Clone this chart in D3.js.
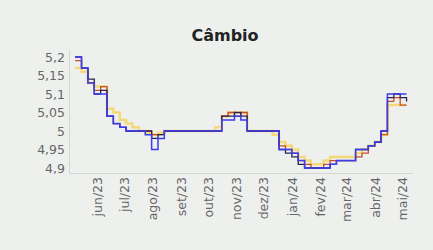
<!DOCTYPE html>
<html><head><meta charset="utf-8">
<script src="https://cdn.jsdelivr.net/npm/d3@7"></script>
<style>
html,body{margin:0;padding:0;background:#eef0ee;}
svg{display:block;}
</style></head>
<body>
<script>
const title = "Câmbio";
const startDate = "2023-05-08"; // weekly survey dates
const yTicks = [4.9, 4.95, 5.0, 5.05, 5.1, 5.15, 5.2];
const monthTicks = ["2023-06-01","2023-07-01","2023-08-01","2023-09-01","2023-10-01","2023-11-01","2023-12-01","2024-01-01","2024-02-01","2024-03-01","2024-04-01","2024-05-01"];
const monthLabels = ["jun/23","jul/23","ago/23","set/23","out/23","nov/23","dez/23","jan/24","fev/24","mar/24","abr/24","mai/24"];

const yellowSeries = [5.17,5.16,5.13,5.12,5.12,5.06,5.05,5.03,5.02,5.01,5.00,4.995,4.99,4.995,5.00,5.00,5.00,5.00,5.00,5.00,5.00,5.00,5.01,5.04,5.05,5.05,5.05,5.00,5.00,5.00,5.00,4.99,4.97,4.96,4.95,4.93,4.92,4.91,4.91,4.92,4.93,4.93,4.93,4.93,4.94,4.95,4.96,4.97,4.99,5.07,5.07,5.07,5.07];
const redSeries    = [5.19,5.17,5.13,5.11,5.12,5.04,5.02,5.01,5.00,5.00,5.00,5.00,4.99,4.99,5.00,5.00,5.00,5.00,5.00,5.00,5.00,5.00,5.00,5.04,5.05,5.04,5.05,5.00,5.00,5.00,5.00,5.00,4.96,4.95,4.94,4.92,4.91,4.90,4.90,4.91,4.92,4.92,4.92,4.92,4.93,4.94,4.96,4.97,4.99,5.08,5.09,5.07,5.07];
const darkSeries   = [5.20,5.17,5.14,5.10,5.11,5.04,5.02,5.01,5.00,5.00,5.00,5.00,4.98,4.99,5.00,5.00,5.00,5.00,5.00,5.00,5.00,5.00,5.00,5.04,5.04,5.05,5.04,5.00,5.00,5.00,5.00,5.00,4.95,4.94,4.93,4.91,4.90,4.90,4.90,4.90,4.91,4.92,4.92,4.92,4.95,4.95,4.96,4.97,5.00,5.09,5.10,5.09,5.08];
const blueSeries   = [5.20,5.17,5.13,5.10,5.10,5.04,5.02,5.01,5.00,5.00,5.00,4.99,4.95,4.98,5.00,5.00,5.00,5.00,5.00,5.00,5.00,5.00,5.00,5.03,5.03,5.04,5.03,5.00,5.00,5.00,5.00,5.00,4.95,4.95,4.94,4.92,4.90,4.90,4.90,4.90,4.91,4.92,4.92,4.92,4.95,4.95,4.96,4.97,5.00,5.10,5.10,5.10,5.10];

const W = 433, H = 250;
const parse = d3.utcParse("%Y-%m-%d");
const t0 = parse(startDate);
const dates = blueSeries.map((_, i) => d3.utcDay.offset(t0, 7 * i));

const x = d3.scaleUtc().domain([parse("2023-06-01"), parse("2024-05-01")]).range([97, 402]);
const y = d3.scaleLinear().domain([4.9, 5.2]).range([168, 57]);

const svg = d3.select("body").append("svg").attr("width", W).attr("height", H);
svg.append("rect").attr("width", W).attr("height", H).attr("fill", "#eef0ee");

svg.append("text").attr("x", 225).attr("y", 41).attr("text-anchor", "middle")
  .attr("font-family", "DejaVu Sans, sans-serif").attr("font-weight", "bold")
  .attr("font-size", 16).attr("fill", "#222").text(title);

// axis lines
svg.append("line").attr("x1", 69.5).attr("x2", 69.5).attr("y1", 50).attr("y2", 174).attr("stroke", "#d4d6d4");
svg.append("line").attr("x1", 69).attr("x2", 413).attr("y1", 173.5).attr("y2", 173.5).attr("stroke", "#d4d6d4");

// y axis
const yAxis = d3.axisLeft(y).tickValues(yTicks).tickSize(0).tickPadding(0)
  .tickFormat(d => d3.format("")(+d.toFixed(2)).replace(".", ","));
const gy = svg.append("g").attr("transform", "translate(65,0)").call(yAxis);
gy.select(".domain").remove();
gy.selectAll("text").attr("font-family", "DejaVu Sans, sans-serif").attr("font-size", 12.5).attr("fill", "#666");

// x axis
const xAxis = d3.axisBottom(x).tickValues(monthTicks.map(parse)).tickSize(0)
  .tickFormat((d, i) => monthLabels[i]);
const gx = svg.append("g").attr("transform", "translate(0,177)").call(xAxis);
gx.select(".domain").remove();
gx.selectAll("text").attr("font-family", "DejaVu Sans, sans-serif").attr("font-size", 12.5).attr("fill", "#666")
  .attr("text-anchor", "end").attr("transform", "rotate(-90)").attr("x", 0).attr("y", 0).attr("dy", "0.35em");

const line = d3.line().curve(d3.curveStepAfter).x((d, i) => x(dates[i])).y(d => y(d));
const series = [
  {v: yellowSeries, c: "#f6cf4a", w: 2.5, o: 0.7},
  {v: redSeries, c: "#c4502c", w: 1.3, o: 1},
  {v: darkSeries, c: "#2a2450", w: 1.3, o: 1},
  {v: blueSeries, c: "#3c3cf0", w: 1.5, o: 1}
];
series.forEach(s => {
  svg.append("path").datum(s.v).attr("d", line).attr("fill", "none")
    .attr("stroke", s.c).attr("stroke-width", s.w).attr("stroke-opacity", s.o);
});
</script>
</body></html>
